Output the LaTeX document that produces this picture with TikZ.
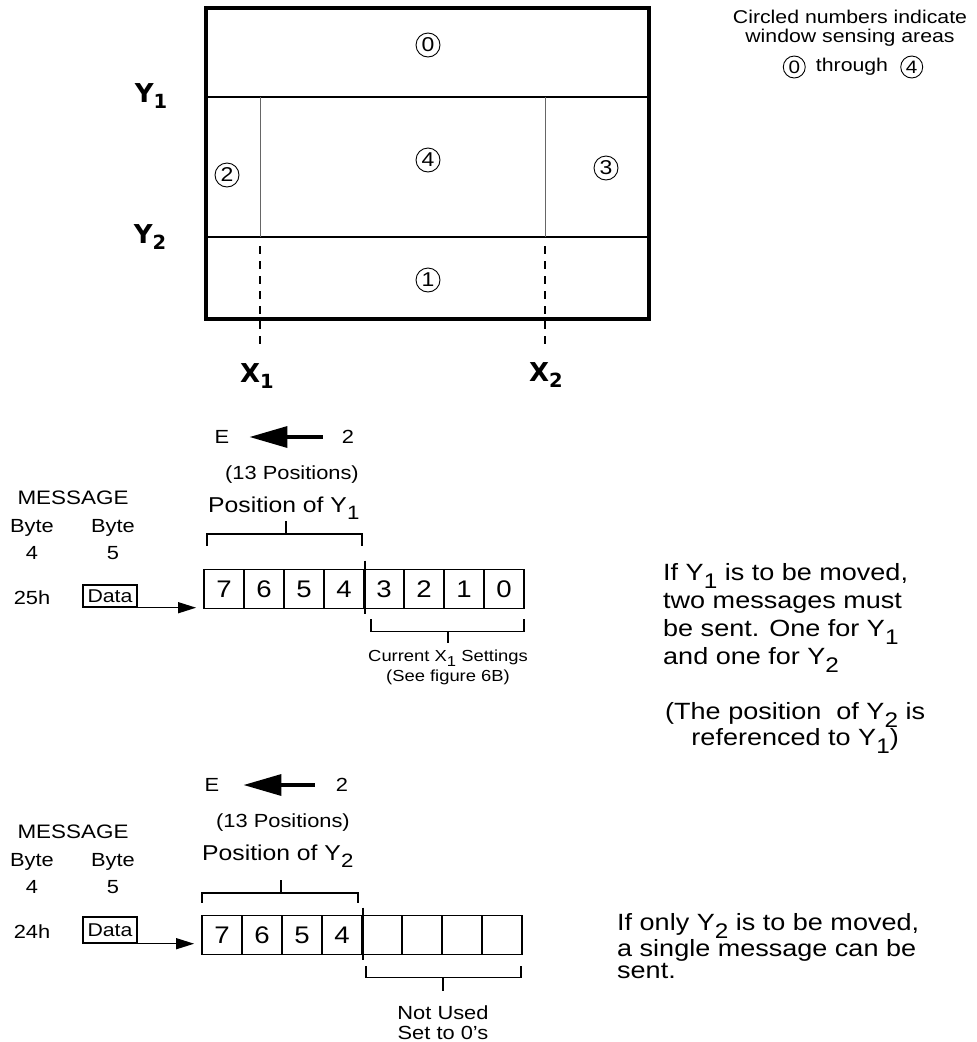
\documentclass[tikz,border=0pt]{standalone}
\usepackage{fontspec}
\setmainfont{Liberation Sans}[FakeStretch=1.15]
\newfontfamily\axisfont{DejaVu Sans}
\usetikzlibrary{arrows.meta,positioning,calc}
\newcommand{\fsz}[1]{\fontsize{#1}{#1}\selectfont}
\newcommand{\lsub}[1]{\raisebox{-0.35em}{\scalebox{0.9}{#1}}}
\newcommand{\axsub}[1]{\raisebox{-0.25em}{\scalebox{0.75}{#1}}}
\tikzset{
  frame/.style={line width=3.5pt},
  zoneline/.style={line width=1.8pt},
  xline/.style={line width=1pt, draw=black!60},
  xdash/.style={line width=1.8pt, dash pattern=on 8pt off 7pt},
  area/.style={circle, draw, line width=0.9pt, inner sep=0pt, minimum size=24pt, font=\fsz{20}},
  axislbl/.style={inner sep=0pt, font=\axisfont\bfseries\fsz{26}},
  cell/.style={draw, line width=1.8pt, minimum width=40pt, minimum height=39pt, inner sep=0pt, font=\fsz{24}},
  datbox/.style={draw, line width=1.4pt, minimum width=54pt, inner sep=0pt, font=\fsz{18.5}},
  lbl/.style={inner sep=0pt, font=\fsz{19}},
  note/.style={inner sep=0pt, align=left},
  brk/.style={line width=1.8pt},
  bigarrw/.style={-{Triangle[length=38pt,width=21pt]}, line width=3.5pt},
  arrw/.style={-{Triangle[length=18pt,width=11pt]}, line width=1.4pt},
}
\begin{document}
\begin{tikzpicture}[x=1pt, y=-1pt]
  \useasboundingbox (0,0) rectangle (977,1042);

  \draw[frame] (206,8) rectangle (649,319);
  \draw[zoneline] (206,97) -- (649,97);
  \draw[zoneline] (206,237) -- (649,237);
  \draw[xline] (260,97) -- (260,237);
  \draw[xline] (545,97) -- (545,237);
  \draw[xdash] (260,246) -- (260,348);
  \draw[xdash] (545,246) -- (545,348);

  \node[area] (zone0) at (428,45) {0};
  \node[area] (zone4) at (428,160) {4};
  \node[area] (zone2) at (227,175) {2};
  \node[area] (zone3) at (606,168) {3};
  \node[area] (zone1) at (428,280) {1};

  \node[axislbl] (ly1) at (151,96) {Y\axsub{1}};
  \node[axislbl] (ly2) at (150,237) {Y\axsub{2}};
  \node[axislbl] (lx1) at (257,376) {X\axsub{1}};
  \node[axislbl] (lx2) at (546,375) {X\axsub{2}};

  \node[lbl, align=center, font=\fontsize{18.5}{19}\selectfont] (legend) at (850,28)
    {Circled numbers indicate\\window sensing areas};
  \node[lbl, font=\fsz{18.5}] (thru) at (852,67) {through};
  \node[area, minimum size=22pt, font=\fsz{18}, left=10pt of thru] (leg0) {0};
  \node[area, minimum size=22pt, font=\fsz{18}, right=12pt of thru] (leg4) {4};

  % message for Y1
  \node[lbl, font=\fsz{19}] (e1) at (222,437) {E};
  \node[lbl, font=\fsz{19}] (two1) at (348,437) {2};
  \draw[bigarrw, shorten <=19pt, shorten >=20pt] (two1) -- (e1);
  \node[lbl] (pos1) at (292,475) {(13 Positions)};
  \node[lbl, font=\fsz{21.5}, anchor=base west] (posy1) at (208,512) {Position of Y\lsub{1}};

  \node[lbl, font=\fsz{19.5}] (msg1) at (73,498) {MESSAGE};
  \node[lbl] (bytea1) at (32,528) {Byte};
  \node[lbl] (byteb1) at (113,528) {Byte};
  \node[lbl] (num4a) at (32,553) {4};
  \node[lbl] (num5a) at (113,553) {5};
  \node[lbl] (hex1) at (32,598) {25h};
  \node[datbox, minimum height=22pt] (data1) at (110,596) {Data};

  \foreach \d [count=\i from 0] in {7,6,5,4,3,2,1,0}
    \node[cell] (a\d) at (224+40*\i,589) {\d};
  \draw[brk] ($(a4.north east)+(0,-8)$) -- ($(a4.south east)+(0,5)$);
  \draw[arrw, shorten >=7pt] (data1.south east) -- (data1.south east -| a7.west);

  \draw[brk] ($(a7.north west)+(4,-23)$) |- ($(a4.north east)+(-3,-35)$) -- ++(0,12);
  \draw[brk] ($(a7.north west)!0.5!(a4.north east)+(2,-35)$) -- ++(0,-13);
  \draw[brk] ($(a3.south west)+(8,10)$) |- ($(a0.south east)+(-1,22)$) -- ++(0,-12);
  \draw[brk] ($(a3.south west)!0.5!(a0.south east)+(4,22)$) -- ++(0,12);
  \node[lbl, align=center, font=\fontsize{16}{20}\selectfont] (cur1) at (448,667)
    {Current X\lsub{1} Settings\\(See figure 6B)};

  % message for Y2
  \node[lbl, font=\fsz{19}] (e2) at (212,785) {E};
  \node[lbl, font=\fsz{19}] (two2) at (342,785) {2};
  \draw[bigarrw, shorten <=21pt, shorten >=24pt] (two2) -- (e2);
  \node[lbl] (pos2) at (283,823) {(13 Positions)};
  \node[lbl, font=\fsz{21.5}, anchor=base west] (posy2) at (202,860) {Position of Y\lsub{2}};

  \node[lbl, font=\fsz{19.5}] (msg2) at (73,832) {MESSAGE};
  \node[lbl] (bytea2) at (32,862) {Byte};
  \node[lbl] (byteb2) at (113,862) {Byte};
  \node[lbl] (num4b) at (32,887) {4};
  \node[lbl] (num5b) at (113,887) {5};
  \node[lbl] (hex2) at (32,932) {24h};
  \node[datbox, minimum height=26pt] (data2) at (110,930) {Data};

  \foreach \d [count=\i from 0] in {7,6,5,4}
    \node[cell] (b\d) at (222+40*\i,935) {\d};
  \foreach \d [count=\i from 4] in {3,2,1,0}
    \node[cell] (b\d) at (222+40*\i,935) {};
  \draw[brk] ($(b4.north east)+(0,-7)$) -- ($(b4.south east)+(0,5)$);
  \draw[arrw, shorten >=7pt] (data2.south east) -- (data2.south east -| b7.west);

  \draw[brk] ($(b7.north west)+(1,-12)$) |- ($(b4.north east)+(-5,-22)$) -- ++(0,10);
  \draw[brk] ($(b7.north west)!0.5!(b4.north east)+(-1,-22)$) -- ++(0,-13);
  \draw[brk] ($(b3.south west)+(5,11)$) |- ($(b0.south east)+(-2,22)$) -- ++(0,-11);
  \draw[brk] ($(b3.south west)!0.5!(b0.south east)+(1,22)$) -- ++(0,14);
  \node[lbl, align=center, font=\fontsize{19}{20}\selectfont] (unused) at (443,1023)
    {Not Used\\Set to 0's};

  % notes
  \node[note, anchor=north west, font=\fontsize{23.5}{28}\selectfont] (note1) at (663,563)
    {If Y\lsub{1} is to be moved,\\two messages must\\be sent. One for Y\lsub{1}\\and one for Y\lsub{2}};
  \node[note, align=center, anchor=north west, font=\fontsize{23.5}{25}\selectfont] (note2) at (665,702)
    {(The position\ \ of Y\lsub{2} is\\referenced to Y\lsub{1})};
  \node[note, anchor=north west, font=\fontsize{23.5}{22.5}\selectfont] (note3) at (617,913)
    {If only Y\lsub{2} is to be moved,\\a single message can be\\sent.};
\end{tikzpicture}
\end{document}
